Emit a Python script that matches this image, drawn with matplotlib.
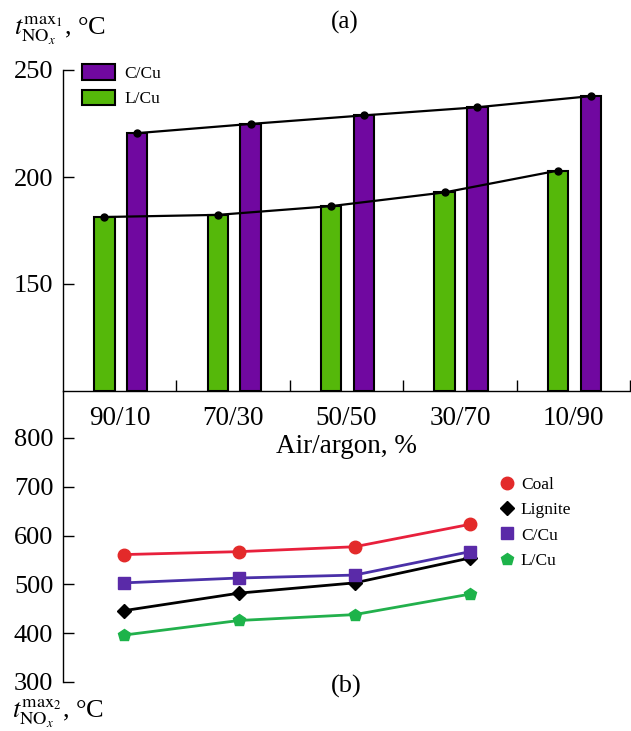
import matplotlib
matplotlib.use("Agg")
import matplotlib.pyplot as plt
import numpy as np

plt.rcParams['font.family'] = ['Liberation Serif', 'DejaVu Serif']
plt.rcParams['mathtext.fontset'] = 'stix'

# ---- data ----
categories = ["90/10", "70/30", "50/50", "30/70", "10/90"]
ccu_top = [220.5, 224.8, 228.8, 232.6, 237.8]
lcu_top = [181.3, 182.3, 186.4, 192.8, 203.0]

cats_b = ["90/10", "70/30", "50/50", "30/70"]
coal = [561, 567, 577, 623]
lignite = [446, 482, 503, 554]
ccu_b = [503, 513, 519, 567]
lcu_b = [396, 426, 438, 480]

W, H = 631, 731
fig = plt.figure(figsize=(W / 100, H / 100), dpi=100)

def rect(l, t, r, b):
    return [l / W, 1 - b / H, (r - l) / W, (b - t) / H]

# ---- top panel (a) ----
ax1 = fig.add_axes(rect(63, 70, 630, 391))
x = np.arange(len(categories))
bw = 0.18
ax1.bar(x - 0.135, [v - 100 for v in lcu_top], bw, bottom=100, color="#55b80a",
        edgecolor="black", linewidth=1.5, label="L/Cu", zorder=2)
ax1.bar(x + 0.155, [v - 100 for v in ccu_top], bw, bottom=100, color="#7008a0",
        edgecolor="black", linewidth=1.5, label="C/Cu", zorder=2)
ax1.plot(x + 0.155, ccu_top, color="black", lw=1.6, marker="o", ms=5, zorder=3)
ax1.plot(x - 0.135, lcu_top, color="black", lw=1.6, marker="o", ms=5, zorder=3)
ax1.set_xlim(-0.5, 4.5)
ax1.set_ylim(100, 250)
ax1.set_yticks([150, 200, 250])
ax1.set_xticks(x + 0.5)
ax1.set_xticklabels([])
ax1.set_xticks(x, minor=True)
ax1.set_xticklabels(categories, minor=True, fontsize=19.5)
ax1.tick_params(axis='x', which='minor', length=0, pad=11)
ax1.tick_params(axis='x', which='major', direction='in', length=8, width=1)
ax1.tick_params(axis='y', direction='in', length=8, width=1, labelsize=19, pad=7)
for s in ["top", "right"]:
    ax1.spines[s].set_visible(False)
ax1.spines["left"].set_linewidth(1.0)
ax1.spines["bottom"].set_linewidth(1.0)
ax1.set_xlabel("Air/argon, %", fontsize=19.5, labelpad=2)
h, l = ax1.get_legend_handles_labels()
ax1.legend(h[::-1], l[::-1], loc="upper left", bbox_to_anchor=(82 / W, 1 - 64 / H),
           bbox_transform=fig.transFigure, frameon=False, fontsize=12.5,
           handlelength=1.9, handleheight=1.0, labelspacing=0.45, handletextpad=0.55,
           borderpad=0, borderaxespad=0)

fig.text(14 / W, 1 - 30 / H, r"$t^{\mathrm{max}_1}_{\mathrm{NO}_x}$, °C", fontsize=19,
         ha="left", va="center")
fig.text(345 / W, 1 - 22 / H, "(a)", fontsize=18, ha="center", va="center")

# ---- bottom panel (b) ----
ax2 = fig.add_axes(rect(63, 392, 630, 682))
ax2.patch.set_alpha(0)
xb = np.arange(len(cats_b))
ax2.plot(xb, coal, color="#e8203c", lw=2, marker="o", ms=9, mfc="#e32a2a", mec="#e32a2a", label="Coal")
ax2.plot(xb, lignite, color="black", lw=2, marker="D", ms=7, label="Lignite")
ax2.plot(xb, ccu_b, color="#4a30a8", lw=2, marker="s", ms=8, mfc="#5a2aa8", mec="#5a2aa8", label="C/Cu")
ax2.plot(xb, lcu_b, color="#22b04c", lw=2, marker="p", ms=9, mfc="#1db34a", mec="#1db34a", label="L/Cu")
ax2.set_xlim(-0.524, 4.385)
ax2.set_ylim(300, 894)
ax2.set_yticks([300, 400, 500, 600, 700, 800])
ax2.set_xticks([])
ax2.tick_params(axis='y', direction='in', length=8, width=1, labelsize=19, pad=7)
for s in ["top", "right", "bottom"]:
    ax2.spines[s].set_visible(False)
ax2.spines["left"].set_linewidth(1.0)
ax2.legend(loc="upper left", bbox_to_anchor=(507 / W, 1 - 477 / H),
           bbox_transform=fig.transFigure, frameon=False, fontsize=12.5,
           handlelength=0, handletextpad=0.8, labelspacing=0.52,
           borderpad=0, borderaxespad=0, markerscale=1.0)

fig.text(346 / W, 1 - 686 / H, "(b)", fontsize=19, ha="center", va="center")
fig.text(12 / W, 1 - 713 / H, r"$t^{\mathrm{max}_2}_{\mathrm{NO}_x}$, °C", fontsize=19,
         ha="left", va="center")

fig.savefig("out.png", dpi=100)
